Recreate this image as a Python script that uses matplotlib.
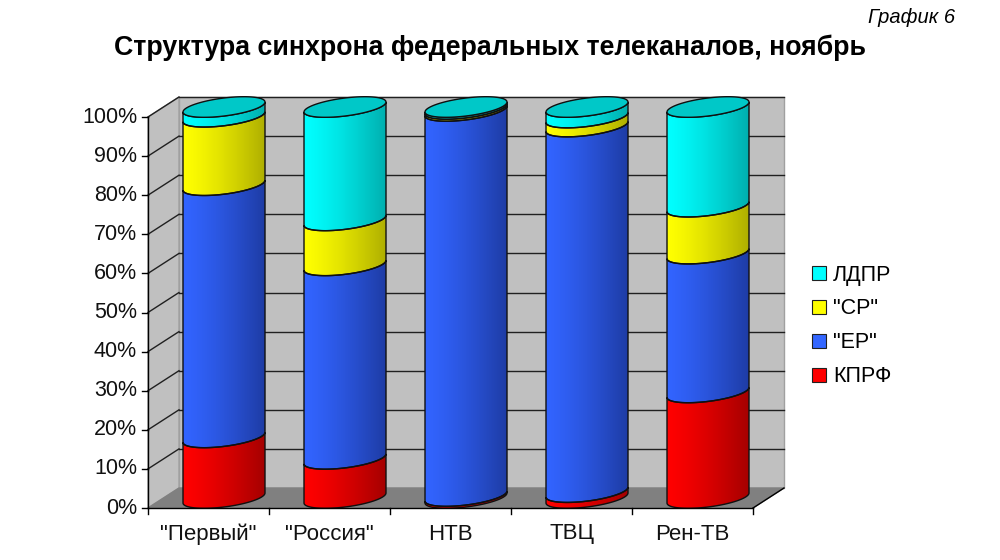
import numpy as np
import matplotlib
matplotlib.use('Agg')
import matplotlib.pyplot as plt
import matplotlib.patches as mpatches

plt.rcParams['font.family'] = ['Liberation Sans', 'DejaVu Sans']

# ── данные ──
channels = ['"Первый"', '"Россия"', 'НТВ', 'ТВЦ', 'Рен-ТВ']
kprf = [15.5, 10.0, 0.5, 1.5, 27.0]
er = [64.5, 49.5, 98.5, 93.5, 35.5]
sr = [17.5, 11.5, 0.5, 2.3, 12.0]
ldpr = [2.5, 29.0, 0.5, 2.7, 25.5]
series_names = ['КПРФ', '"ЕР"', '"СР"', 'ЛДПР']
yticks = list(range(0, 101, 10))

# цвета: (светлый край, тёмный край, цвет легенды)
shades = [((255, 0, 0), (165, 0, 0), '#ff0000'),
          ((50, 100, 255), (30, 60, 165), '#3366ff'),
          ((255, 255, 0), (175, 175, 0), '#ffff00'),
          ((0, 255, 255), (0, 175, 175), '#00ffff')]
top_color = '#00c8c8'

# ── оси: единица по x = одна категория, по y = 1% ──
px_cat = 121.0
px_pct = 3.91
fig = plt.figure(figsize=(10, 5.6), dpi=100)
ax = fig.add_axes([0, 0, 1, 1])
ax.set_xlim(-148 / px_cat, (1000 - 148) / px_cat)
ax.set_ylim((508 - 560) / px_pct, 508 / px_pct)
ax.axis('off')

n = len(channels)
ddx = 31 / px_cat     # глубина по x
ddy = 20 / px_pct     # глубина по y
ra = 41 / px_cat      # радиус цилиндра
rb = 9 / px_pct       # полуось эллипса
sh = 5 / px_pct       # наклон эллипса

# ── стенки ──
ax.add_patch(mpatches.Polygon([(ddx, ddy), (n + ddx, ddy), (n + ddx, 100 + ddy), (ddx, 100 + ddy)],
                              closed=True, fc='#c0c0c0', ec='#a0a0a0', lw=1, zorder=1))
ax.add_patch(mpatches.Polygon([(0, 0), (ddx, ddy), (ddx, 100 + ddy), (0, 100)],
                              closed=True, fc='#c0c0c0', ec='#a0a0a0', lw=1, zorder=1))
ax.add_patch(mpatches.Polygon([(0, 0), (n, 0), (n + ddx, ddy), (ddx, ddy)],
                              closed=True, fc='#808080', ec='#808080', lw=1, zorder=1))
for v in yticks[1:]:
    ax.plot([ddx, n + ddx], [v + ddy, v + ddy], color='#202020', lw=1, zorder=2)
    ax.plot([0, ddx], [v, v + ddy], color='#202020', lw=1, zorder=2)
ax.plot([n, n + ddx], [0, ddy], color='black', lw=1, zorder=2)

# ── цилиндры ──
t_front = np.linspace(np.pi, 2 * np.pi, 60)
t_full = np.linspace(0, 2 * np.pi, 120)


def curve(cx, cy, t):
    return cx + ra * np.cos(t), cy + rb * np.sin(t) + sh * np.cos(t)


def gradient(c1, c2):
    s = np.linspace(0, 1, 200) ** 1.3
    c1 = np.array(c1) / 255.0
    c2 = np.array(c2) / 255.0
    g = c1[None, :] * (1 - s[:, None]) + c2[None, :] * s[:, None]
    return g[None, :, :]


data = [kprf, er, sr, ldpr]
for i in range(n):
    cx = i + 0.5 + ddx / 2
    base = 0.0
    for k, vals in enumerate(data):
        v = vals[i]
        y0 = base + ddy / 2
        y1 = base + v + ddy / 2
        bx, by = curve(cx, y0, t_front)
        tx, ty = curve(cx, y1, t_front[::-1])
        verts = np.column_stack([np.r_[bx, tx], np.r_[by, ty]])
        poly = mpatches.Polygon(verts, closed=True, fc='none', ec='#101010', lw=1, zorder=4)
        ax.add_patch(poly)
        im = ax.imshow(gradient(shades[k][0], shades[k][1]), aspect='auto',
                       extent=[cx - ra, cx + ra, by.min() - 3, ty.max() + 3], zorder=3,
                       interpolation='bilinear')
        im.set_clip_path(poly)
        base += v
    # верхний эллипс
    ex, ey = curve(cx, base + ddy / 2, t_full)
    ax.add_patch(mpatches.Polygon(np.column_stack([ex, ey]), closed=True,
                                  fc=top_color, ec='#101010', lw=1, zorder=5))

# ── передние оси ──
ax.plot([0, 0], [0, 100], color='black', lw=1, zorder=6)
ax.plot([0, n], [0, 0], color='black', lw=1, zorder=6)
for v in yticks:
    ax.plot([-6 / px_cat, 0], [v, v], color='black', lw=1, zorder=6)
    ax.text(-11 / px_cat, v, f'{v}%', ha='right', va='center', fontsize=15.5, color='#111111')
for i in range(n + 1):
    ax.plot([i, i], [0, -6 / px_pct], color='black', lw=1, zorder=6)
for i, name in enumerate(channels):
    ax.text(i + 0.5, -26 / px_pct, name, ha='center', va='center', fontsize=16, color='#111111')

# ── легенда ──
handles = [mpatches.Patch(fc=shades[k][2], ec='#202020', lw=0.8) for k in range(4)][::-1]
fig.legend(handles, series_names[::-1], loc='center left', bbox_to_anchor=(0.793, 0.418),
           frameon=False, fontsize=15.5, handlelength=0.65, handleheight=0.65,
           handletextpad=0.3, labelspacing=0.6)

# ── заголовки ──
fig.text(0.49, 0.915, 'Структура синхрона федеральных телеканалов, ноябрь',
         ha='center', va='center', fontsize=19.3, weight='bold')
fig.text(0.955, 0.968, 'График 6', ha='right', va='center', fontsize=14.5, style='italic')

fig.savefig('out.png', dpi=100)
